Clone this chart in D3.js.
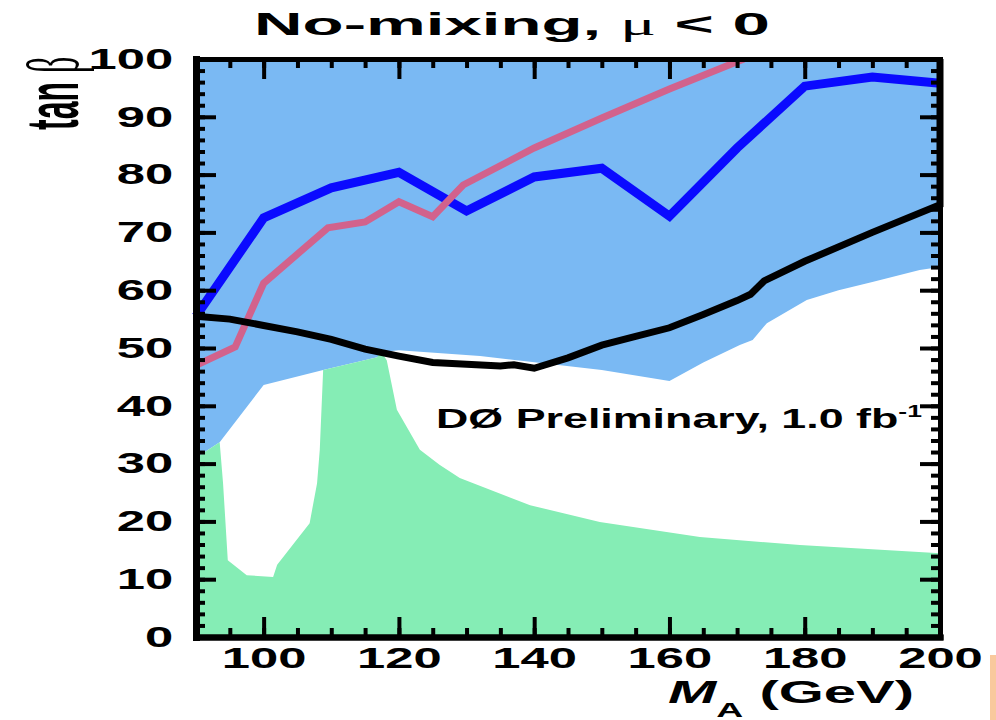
<!DOCTYPE html>
<html>
<head>
<meta charset="utf-8">
<script src="https://cdn.jsdelivr.net/npm/d3@7/dist/d3.min.js"></script>
<style>
    body { margin: 0; background: #ffffff; }
    svg { display: block; }
</style>
</head>
<body>
<span></span>
<script>
// tick values
let massTicks = [100, 120, 140, 160, 180, 200];
let massMinorTicks = [90, 95, 100, 105, 110, 115, 120, 125, 130, 135, 140, 145, 150, 155, 160, 165, 170, 175, 180, 185, 190, 195, 200];
let tanbTicks = [0, 10, 20, 30, 40, 50, 60, 70, 80, 90, 100];
let tanbMinorTicks = d3.range(0, 101, 2);

// blue curve
let blueMass = [90, 100, 110, 120, 130, 140, 150, 160, 170, 180, 190, 200];
let blueTanb = [55.5, 72.5, 77.7, 80.4, 73.7, 79.6, 81.1, 72.8, 84.6, 95.3, 96.9, 95.8];

// pink curve
let pinkMass = [90, 95.8, 100, 109.5, 115, 120, 125, 129.5, 140, 150, 160, 171];
let pinkTanb = [47, 50.2, 61.2, 70.8, 71.8, 75.3, 72.7, 78.2, 84.6, 89.8, 94.8, 100];

// black curve
let blackMass = [90, 95, 100, 105, 110, 115, 120, 125, 130, 135, 137, 140, 145, 150, 155, 160, 165, 170, 172, 174, 180, 190, 200, 200];
let blackTanb = [55.5, 55, 53.9, 52.8, 51.5, 49.8, 48.6, 47.5, 47.2, 46.9, 47.1, 46.5, 48.3, 50.5, 52, 53.5, 55.8, 58.2, 59.3, 61.6, 65, 70, 74.8, 100];

// lower edge of the light blue region
let whiteMass = [90, 93.5, 100, 108.8, 116.8, 117.6, 120, 132, 141, 150, 160, 165, 170.4, 172.3, 174.4, 180.3, 185, 190, 197, 200];
let whiteTanb = [31, 33.7, 43.6, 46.2, 48.4, 49.3, 49.6, 48.6, 47.4, 46.2, 44.3, 47.5, 50.5, 51.4, 54.3, 58.3, 60, 61.4, 63.5, 64];

// upper edge of the green region
let greenMass = [90, 93.5, 94, 94.7, 97.5, 101.4, 102, 106.8, 107.9, 108.3, 108.8, 116.8, 117.3, 118.2, 119.7, 123.1, 126, 129, 139.4, 149.7, 164.5, 179.3, 200];
let greenTanb = [31, 33.7, 26.6, 13.3, 10.7, 10.4, 12.5, 19.7, 26.6, 32.4, 46.2, 48.4, 49.5, 47.9, 39.3, 32.4, 29.8, 27.5, 22.8, 19.9, 17.3, 15.9, 14.5];

let width = 996;
let height = 720;
let font = "'Liberation Sans', Arial, Helvetica, sans-serif";

let svg = d3.select("span")
    .append("svg")
    .attr("width", width)
    .attr("height", height);

let x = d3.scaleLinear().domain([90, 200]).range([196, 940]);
let y = d3.scaleLinear().domain([0, 100]).range([637, 59]);

function zipPoints(ms, ts) {
    return ms.map((m, i) => ({ m: m, t: ts[i] }));
}

svg.append("clipPath")
    .attr("id", "plotClip")
    .append("rect")
    .attr("x", x(90))
    .attr("y", y(100))
    .attr("width", x(200) - x(90))
    .attr("height", y(0) - y(100));

let plot = svg.append("g").attr("clip-path", "url(#plotClip)");

// light blue background
plot.append("rect")
    .attr("x", x(90))
    .attr("y", y(100))
    .attr("width", x(200) - x(90))
    .attr("height", y(0) - y(100))
    .style("fill", "#7ab9f3");

let area = d3.area()
    .x(d => x(d.m))
    .y0(y(0))
    .y1(d => y(d.t));

plot.append("path")
    .attr("d", area(zipPoints(whiteMass, whiteTanb)))
    .style("fill", "#ffffff");

plot.append("path")
    .attr("d", area(zipPoints(greenMass, greenTanb)))
    .style("fill", "#85edb5");

let line = d3.line()
    .x(d => x(d.m))
    .y(d => y(d.t));

let lineLayer = svg.append("g");

lineLayer.append("path")
    .attr("d", line(zipPoints(blueMass, blueTanb)))
    .style("fill", "none")
    .style("stroke", "#0a0aff")
    .style("stroke-width", 9);

lineLayer.append("path")
    .attr("d", line(zipPoints(pinkMass, pinkTanb)))
    .attr("clip-path", "url(#plotClip)")
    .style("fill", "none")
    .style("stroke", "#d2628c")
    .style("stroke-width", 7);

lineLayer.append("path")
    .attr("d", line(zipPoints(blackMass, blackTanb)))
    .style("fill", "none")
    .style("stroke", "#000000")
    .style("stroke-width", 7);

// axes with inward ticks on all four sides
function styleAxis(g, domainWidth) {
    g.select(".domain")
        .style("stroke", "#000")
        .style("stroke-width", domainWidth)
        .style("stroke-linecap", "square");
    g.selectAll(".tick line")
        .style("stroke", "#000")
        .style("stroke-width", 4);
    g.selectAll("text")
        .style("font-family", font)
        .style("font-size", "29px")
        .style("font-weight", "bold")
        .style("fill", "#000");
}

let bottomMinor = svg.append("g")
    .attr("transform", `translate(0,${y(0)})`)
    .call(d3.axisBottom(x).tickValues(massMinorTicks).tickSizeInner(-9).tickSizeOuter(0).tickFormat(""));
styleAxis(bottomMinor, 6);

let bottomAxis = svg.append("g")
    .attr("transform", `translate(0,${y(0)})`)
    .call(d3.axisBottom(x).tickValues(massTicks).tickSizeInner(-20).tickSizeOuter(0).tickPadding(10));
styleAxis(bottomAxis, 6);
bottomAxis.selectAll("text").attr("transform", "scale(1.75,1)");

let topMinor = svg.append("g")
    .attr("transform", `translate(0,${y(100)})`)
    .call(d3.axisTop(x).tickValues(massMinorTicks).tickSizeInner(-9).tickSizeOuter(0).tickFormat(""));
styleAxis(topMinor, 5);

let topAxis = svg.append("g")
    .attr("transform", `translate(0,${y(100)})`)
    .call(d3.axisTop(x).tickValues(massTicks).tickSizeInner(-20).tickSizeOuter(0).tickFormat(""));
styleAxis(topAxis, 5);

let leftMinor = svg.append("g")
    .attr("transform", `translate(${x(90)},0)`)
    .call(d3.axisLeft(y).tickValues(tanbMinorTicks).tickSizeInner(-9).tickSizeOuter(0).tickFormat(""));
styleAxis(leftMinor, 7);

let leftAxis = svg.append("g")
    .attr("transform", `translate(${x(90)},0)`)
    .call(d3.axisLeft(y).tickValues(tanbTicks).tickSizeInner(-20).tickSizeOuter(0).tickPadding(13));
styleAxis(leftAxis, 7);
leftAxis.selectAll("text").attr("transform", "scale(1.75,1)");

let rightMinor = svg.append("g")
    .attr("transform", `translate(${x(200)},0)`)
    .call(d3.axisRight(y).tickValues(tanbMinorTicks).tickSizeInner(-9).tickSizeOuter(0).tickFormat(""));
styleAxis(rightMinor, 5);

let rightAxis = svg.append("g")
    .attr("transform", `translate(${x(200)},0)`)
    .call(d3.axisRight(y).tickValues(tanbTicks).tickSizeInner(-20).tickSizeOuter(0).tickFormat(""));
styleAxis(rightAxis, 5);

// title
let title = svg.append("text")
    .attr("transform", "translate(512,35) scale(2.1,1)")
    .attr("text-anchor", "middle")
    .style("font-family", font)
    .style("font-size", "32px")
    .style("font-weight", "bold");
title.append("tspan").text("No-mixing, ");
title.append("tspan").style("font-weight", "normal").style("font-family", "'Liberation Serif', serif").text("\u03bc");
title.append("tspan").text(" < 0");

// x axis title
let xTitle = svg.append("text")
    .attr("transform", "translate(668,703) scale(1.87,1)")
    .style("font-family", font)
    .style("font-size", "31px")
    .style("font-weight", "bold");
xTitle.append("tspan").style("font-style", "italic").text("M");
xTitle.append("tspan").attr("dy", 14).style("font-size", "20px").text("A");
xTitle.append("tspan").attr("dy", -14).text(" (GeV)");

// y axis title
let yTitle = svg.append("text")
    .attr("transform", "translate(78,130) scale(2.3,1) rotate(-90)")
    .style("font-family", font)
    .style("font-size", "32px")
    .style("font-weight", "bold");
yTitle.append("tspan").text("tan ");
yTitle.append("tspan").style("font-weight", "normal").style("font-family", "'Liberation Serif', serif").text("\u03b2");

// experiment label
let label = svg.append("text")
    .attr("transform", "translate(436,428) scale(1.66,1)")
    .style("font-family", font)
    .style("font-size", "27px")
    .style("font-weight", "bold");
label.append("tspan").text("D\u00d8 Preliminary, 1.0 fb");
label.append("tspan").attr("dy", -11).style("font-size", "16px").text("-1");

// slide edge mark
svg.append("rect")
    .attr("x", 990)
    .attr("y", 655)
    .attr("width", 6)
    .attr("height", 65)
    .style("fill", "#f9c99d");
</script>
</body>
</html>
